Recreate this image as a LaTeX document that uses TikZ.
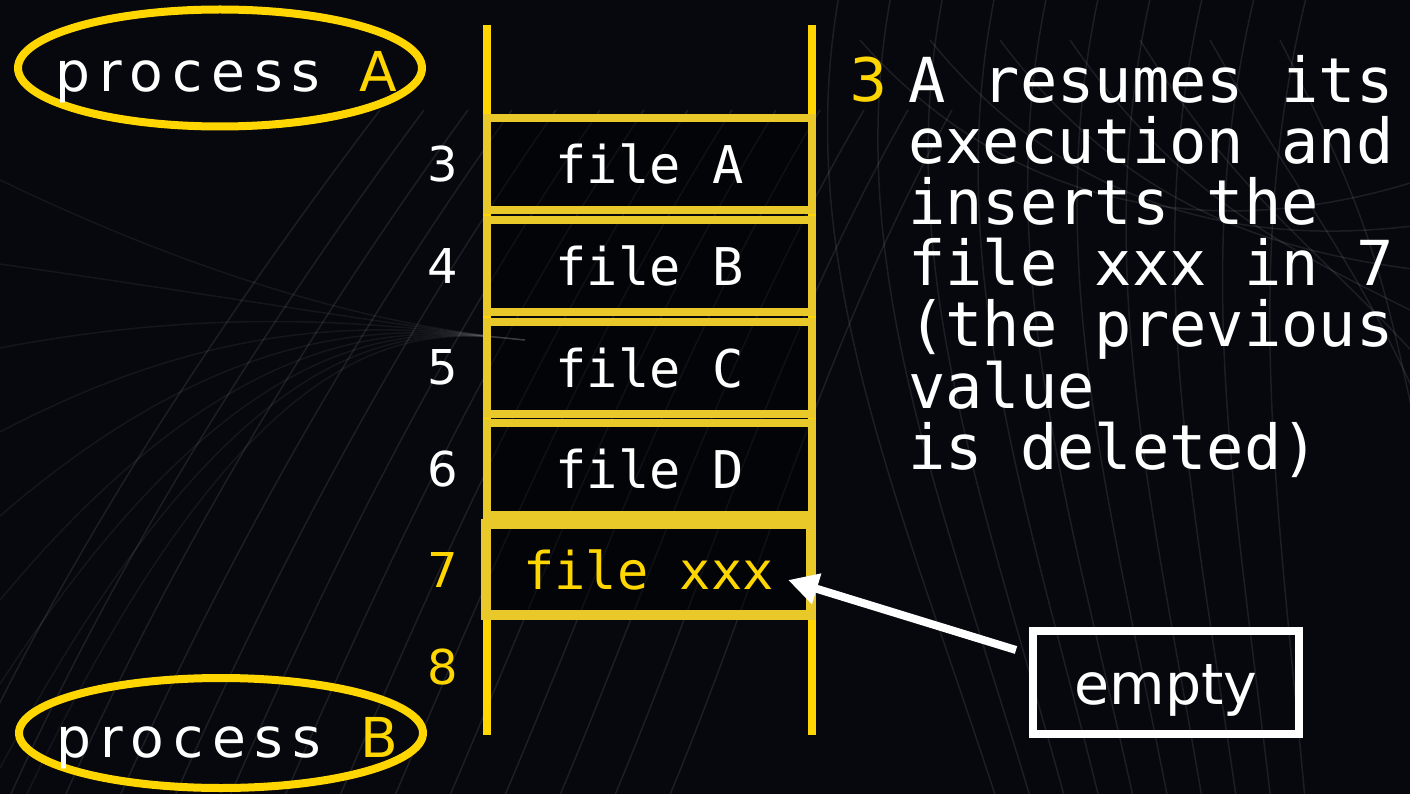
\documentclass[tikz,border=0pt]{standalone}
\usepackage{fontspec}
\setsansfont{DejaVu Sans}
\setmonofont{DejaVu Sans Mono}
\newfontfamily\procfont[LetterSpace=16]{DejaVu Sans}
\usetikzlibrary{arrows.meta}
\usetikzlibrary{shapes.geometric}
\definecolor{railgold}{RGB}{255,214,0}
\definecolor{cellgold}{RGB}{233,201,42}
\definecolor{bgdark}{RGB}{6,8,14}

\tikzset{
  bgline/.style={white,opacity=0.09,line width=1.5pt},
  rail/.style={railgold,line width=8pt},
  cell/.style={draw=cellgold,line width=8pt,fill=black,fill opacity=0.45,text opacity=1,
    minimum width=325pt,minimum height=92pt,inner sep=0pt,text=white,
    font=\fontsize{52}{52}\selectfont\ttfamily},
  slotnum/.style={inner sep=0pt,font=\fontsize{48}{48}\selectfont\sffamily},
  proc/.style={ellipse,draw=railgold,line width=8pt,minimum width=404pt,inner sep=0pt,
    text=white,text height=48pt,text depth=0pt,font=\fontsize{55}{55}\selectfont\procfont},
  note/.style={inner sep=0pt,align=left,text=white,font=\fontsize{62}{61.2}\selectfont\ttfamily},
  tag/.style={draw=white,line width=8pt,minimum width=266pt,minimum height=103pt,inner sep=0pt,
    text=white,text height=43pt,text depth=0pt,font=\fontsize{57}{57}\selectfont\sffamily},
  pointer/.style={white,line width=8pt,-{Triangle[length=30pt,width=30pt]}}
}

\begin{document}
\begin{tikzpicture}[x=1pt,y=-1pt]
\fill[bgdark] (0,0) rectangle (1410,794);
\useasboundingbox (0,0) rectangle (1410,794);

% background swirl
\begin{scope}
\clip (0,0) rectangle (1410,794);
\foreach \k in {0,...,13}
  \draw[bgline] (-60+55*\k,830) .. controls (40+55*\k,600) and (190+48*\k,360) .. (380+44*\k,110);
\foreach \a in {162,168,...,210}
  \draw[bgline,opacity=0.06] (0,180+14*\a-2268) .. controls (250,300) and (420,330) .. (525,340);
\foreach \k in {0,...,9}
  \draw[bgline] (840+52*\k,-10) .. controls (790+50*\k,260) and (900+42*\k,500) .. (1000+34*\k,810);
\foreach \k in {0,...,6}
  \draw[bgline] (860+70*\k,40) .. controls (1000+60*\k,200) and (1200+30*\k,250) .. (1420,180+45*\k);
\end{scope}

% rails
\draw[rail] (487,25) -- (487,735);
\draw[rail] (812,25) -- (812,735);

% cells
\node[cell] (c3) at (649.5,164) {file A};
\node[cell] (c4) at (649.5,266) {file B};
\node[cell] (c5) at (649.5,367.5) {file C};
\node[cell] (c6) at (649.5,469) {file D};
\node[cell,line width=10pt,minimum height=91pt,text=railgold] (c7) at (648.5,569.5) {file xxx};

% slot numbers
\foreach \n/\y/\c in {3/164/white,4/266/white,5/367.5/white,6/469/white,7/569.5/railgold,8/667/railgold}
  \node[slotnum,text=\c] (n\n) at (443,\y) {\n};

% processes
\node[proc,minimum height=117pt] (procA) at (220,68) {\makebox[200pt][c]{\hspace{13pt}process\hspace{13pt} {\color{railgold}A}}};
\node[proc,minimum height=110pt] (procB) at (221,733) {\makebox[200pt][c]{\hspace{13pt}process\hspace{13pt} {\color{railgold}B}}};

% explanation
\node[inner sep=0pt,anchor=base west,text=railgold,font=\fontsize{60}{60}\selectfont\sffamily] (stepno) at (849,102) {3};
\node[note,anchor=base west] (notetxt) at (908,469.2) {A resumes its\\execution and\\inserts the\\file xxx in 7\\(the previous\\value\\is deleted)};

% empty slot
\node[tag] (empty) at (1166,682.5) {empty};
\draw[pointer] ([xshift=-13pt,yshift=32.5pt]empty.west) -- ([xshift=-28pt,yshift=-10.5pt]c7.east);
\end{tikzpicture}
\end{document}
